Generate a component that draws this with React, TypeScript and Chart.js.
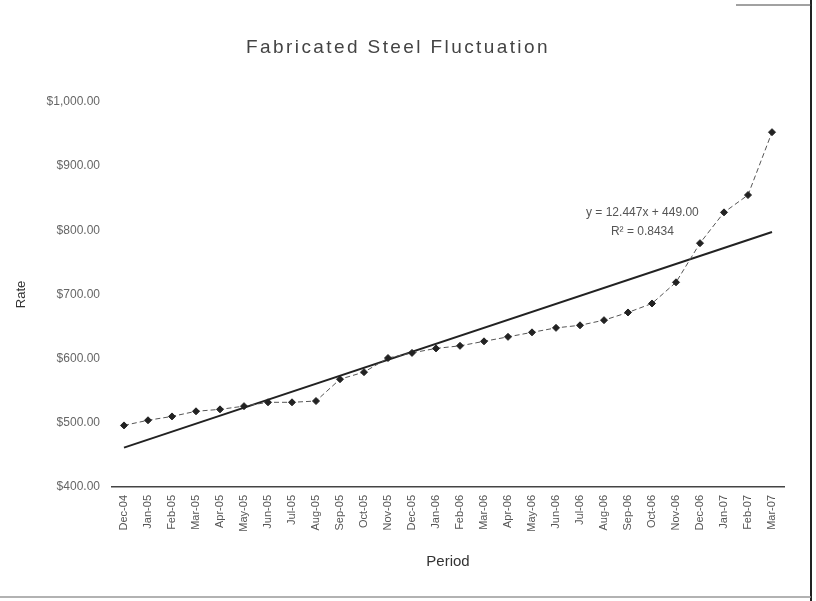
import React, { useEffect, useRef } from "react";
import { Chart, registerables } from "chart.js";

Chart.register(...registerables);

const TITLE = "Fabricated Steel Fluctuation";
const X_TITLE = "Period";
const Y_TITLE = "Rate";

const PERIODS = [
  "Dec-04", "Jan-05", "Feb-05", "Mar-05", "Apr-05", "May-05", "Jun-05",
  "Jul-05", "Aug-05", "Sep-05", "Oct-05", "Nov-05", "Dec-05", "Jan-06",
  "Feb-06", "Mar-06", "Apr-06", "May-06", "Jun-06", "Jul-06", "Aug-06",
  "Sep-06", "Oct-06", "Nov-06", "Dec-06", "Jan-07", "Feb-07", "Mar-07",
];

const RATES = [
  496, 504, 510, 518, 521, 526, 532, 532, 534, 568, 579, 601, 609, 616,
  620, 627, 634, 641, 648, 652, 660, 672, 686, 719, 780, 828, 855, 953,
];

// linear trendline end values (first and last period)
const TREND_ENDS = [461.4, 797.5];

const EQUATION_LINES = ["y = 12.447x + 449.00", "R² = 0.8434"];
const EQUATION_ANCHOR = { index: 21.6, value: 827 };

const Y_MIN = 400;
const Y_MAX = 1000;
const Y_STEP = 100;

function money(v: number): string {
  const fixed = v.toFixed(2);
  const [intPart, dec] = fixed.split(".");
  const withCommas = intPart.replace(/\B(?=(\d{3})+(?!\d))/g, ",");
  return "$" + withCommas + "." + dec;
}

const FONT = "'Liberation Sans', Arial, sans-serif";

export default function App() {
  const ref = useRef<HTMLCanvasElement | null>(null);

  useEffect(() => {
    if (!ref.current) return;

    const trendData: (number | null)[] = PERIODS.map(() => null);
    trendData[0] = TREND_ENDS[0];
    trendData[trendData.length - 1] = TREND_ENDS[1];

    const titlePlugin = {
      id: "wideTitle",
      afterDraw(chart: any) {
        const ctx = chart.ctx;
        ctx.save();
        ctx.fillStyle = "#444";
        ctx.font = `19px ${FONT}`;
        try {
          (ctx as any).letterSpacing = "2.4px";
        } catch (e) {}
        ctx.textAlign = "center";
        ctx.textBaseline = "middle";
        ctx.fillText(TITLE, chart.width / 2 - 10, 48);
        ctx.restore();
      },
    };

    const equationPlugin = {
      id: "equationText",
      afterDatasetsDraw(chart: any) {
        const ctx = chart.ctx;
        const xs = chart.scales.x;
        const ys = chart.scales.y;
        const x = xs.getPixelForValue(EQUATION_ANCHOR.index);
        const y = ys.getPixelForValue(EQUATION_ANCHOR.value);
        ctx.save();
        ctx.fillStyle = "#555";
        ctx.font = `12px ${FONT}`;
        ctx.textAlign = "center";
        ctx.textBaseline = "middle";
        EQUATION_LINES.forEach((line, i) => {
          ctx.fillText(line, x, y + i * 19);
        });
        ctx.restore();
      },
    };

    const framePlugin = {
      id: "frame",
      afterDraw(chart: any) {
        const ctx = chart.ctx;
        const w = chart.width;
        const h = chart.height;
        ctx.save();
        ctx.strokeStyle = "#222";
        ctx.lineWidth = 2;
        ctx.beginPath();
        ctx.moveTo(w - 5, 0);
        ctx.lineTo(w - 5, h);
        ctx.stroke();
        ctx.strokeStyle = "#999";
        ctx.lineWidth = 1.5;
        ctx.beginPath();
        ctx.moveTo(0, h - 4);
        ctx.lineTo(w - 5, h - 4);
        ctx.stroke();
        ctx.strokeStyle = "#444";
        ctx.lineWidth = 1;
        ctx.beginPath();
        ctx.moveTo(w - 80, 5);
        ctx.lineTo(w - 5, 5);
        ctx.stroke();
        ctx.restore();
      },
    };

    const chart = new Chart(ref.current, {
      type: "line",
      data: {
        labels: PERIODS,
        datasets: [
          {
            label: "Rate",
            data: RATES,
            borderColor: "#555",
            borderWidth: 1,
            borderDash: [5, 3],
            pointStyle: "rectRot",
            pointRadius: 3.5,
            pointBackgroundColor: "#222",
            pointBorderColor: "#222",
            tension: 0,
          },
          {
            label: "Linear (Rate)",
            data: trendData,
            spanGaps: true,
            borderColor: "#222",
            borderWidth: 2,
            pointRadius: 0,
            tension: 0,
          },
        ],
      },
      options: {
        animation: false,
        responsive: false,
        maintainAspectRatio: false,
        layout: { padding: { left: 10, right: 32, top: 102, bottom: 26 } },
        plugins: {
          legend: { display: false },
          tooltip: { enabled: false },
          title: { display: false },
        },
        scales: {
          x: {
            offset: true,
            grid: { display: false, drawTicks: false },
            border: { display: true, color: "#444", width: 1.5 },
            ticks: {
              color: "#555",
              font: { family: FONT, size: 11 },
              minRotation: 90,
              maxRotation: 90,
              autoSkip: false,
              padding: 8,
            },
            title: {
              display: true,
              text: X_TITLE,
              color: "#333",
              font: { family: FONT, size: 15 },
            },
            afterFit(scale: any) {
              scale.height = 88;
            },
          },
          y: {
            min: Y_MIN,
            max: Y_MAX,
            grid: { display: false, drawTicks: false },
            border: { display: false },
            ticks: {
              stepSize: Y_STEP,
              color: "#666",
              font: { family: FONT, size: 12 },
              padding: 12,
              callback: (v: any) => money(Number(v)),
            },
            title: {
              display: true,
              text: Y_TITLE,
              color: "#333",
              font: { family: FONT, size: 13 },
            },
            afterFit(scale: any) {
              scale.width = 102;
            },
          },
        },
      },
      plugins: [titlePlugin, equationPlugin, framePlugin],
    });

    return () => chart.destroy();
  }, []);

  return (
    <div
      style={{
        position: "fixed",
        left: 0,
        top: 0,
        width: 816,
        height: 601,
        background: "#fff",
      }}
    >
      <canvas ref={ref} width={816} height={601} style={{ width: 816, height: 601 }} />
    </div>
  );
}
